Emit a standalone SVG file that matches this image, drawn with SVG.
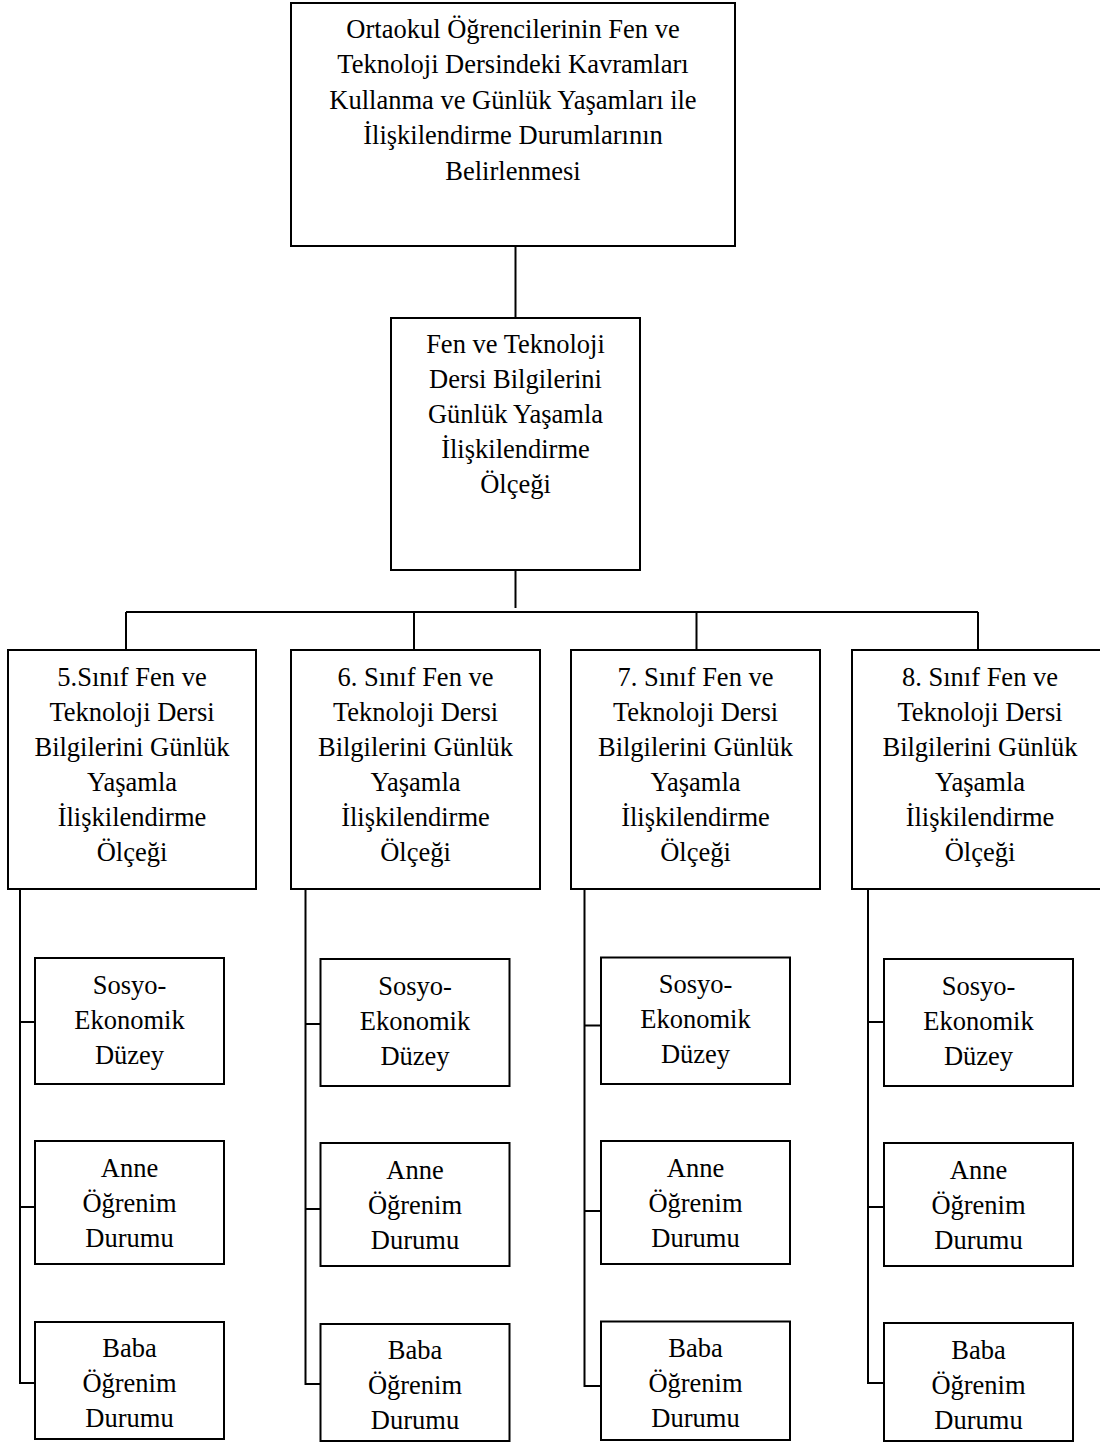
<svg xmlns="http://www.w3.org/2000/svg" width="1100" height="1443" viewBox="0 0 1100 1443">
<style>
.box{fill:#fff;stroke:#000;stroke-width:2}
.ln{fill:none;stroke:#000;stroke-width:2}
.t{font-size:26.5px;fill:#000;text-anchor:middle}
</style>
<rect width="1100" height="1443" fill="#fff"/>
<g id="connectors">
<path class="ln" d="M515.5,246V318"/>
<path class="ln" d="M515.5,570V608"/>
<path class="ln" d="M126,612H978"/>
<path class="ln" d="M126,612V650M414,612V650M696.5,612V650M978,612V652"/>
<path class="ln" d="M20,889V1383H35M20,1022H35M20,1207H35"/>
<path class="ln" d="M305.5,889V1384H320.5M305.5,1024H320.5M305.5,1209H320.5"/>
<path class="ln" d="M584.5,889V1386H601M584.5,1025.5H601M584.5,1211H601"/>
<path class="ln" d="M868,889V1383H884M868,1022H884M868,1207H884"/>
</g>
<g id="root">
<rect class="box" x="291" y="3" width="444" height="243"/>
<text class="t" style="font-family:'Liberation Serif',serif"><tspan x="513" y="37.5">Ortaokul Öğrencilerinin Fen ve</tspan><tspan x="513" y="73">Teknoloji Dersindeki Kavramları</tspan><tspan x="513" y="108.5">Kullanma ve Günlük Yaşamları ile</tspan><tspan x="513" y="144">İlişkilendirme Durumlarının</tspan><tspan x="513" y="179.5">Belirlenmesi</tspan></text>
</g>
<g id="scale">
<rect class="box" x="391" y="318" width="249" height="252"/>
<text class="t" style="font-family:'Liberation Serif',serif"><tspan x="515.5" y="353">Fen ve Teknoloji</tspan><tspan x="515.5" y="388">Dersi Bilgilerini</tspan><tspan x="515.5" y="423">Günlük Yaşamla</tspan><tspan x="515.5" y="458">İlişkilendirme</tspan><tspan x="515.5" y="493">Ölçeği</tspan></text>
</g>
<g id="grade5">
<rect class="box" x="8" y="650" width="248" height="239"/>
<text class="t" style="font-family:'Liberation Serif',serif"><tspan x="132" y="686">5.Sınıf Fen ve</tspan><tspan x="132" y="721">Teknoloji Dersi</tspan><tspan x="132" y="756">Bilgilerini Günlük</tspan><tspan x="132" y="791">Yaşamla</tspan><tspan x="132" y="826">İlişkilendirme</tspan><tspan x="132" y="861">Ölçeği</tspan></text>
</g>
<g id="grade6">
<rect class="box" x="291" y="650" width="249" height="239"/>
<text class="t" style="font-family:'Liberation Serif',serif"><tspan x="415.5" y="686">6. Sınıf Fen ve</tspan><tspan x="415.5" y="721">Teknoloji Dersi</tspan><tspan x="415.5" y="756">Bilgilerini Günlük</tspan><tspan x="415.5" y="791">Yaşamla</tspan><tspan x="415.5" y="826">İlişkilendirme</tspan><tspan x="415.5" y="861">Ölçeği</tspan></text>
</g>
<g id="grade7">
<rect class="box" x="571" y="650" width="249" height="239"/>
<text class="t" style="font-family:'Liberation Serif',serif"><tspan x="695.5" y="686">7. Sınıf Fen ve</tspan><tspan x="695.5" y="721">Teknoloji Dersi</tspan><tspan x="695.5" y="756">Bilgilerini Günlük</tspan><tspan x="695.5" y="791">Yaşamla</tspan><tspan x="695.5" y="826">İlişkilendirme</tspan><tspan x="695.5" y="861">Ölçeği</tspan></text>
</g>
<g id="grade8">
<rect class="box" x="852" y="650" width="256" height="239"/>
<text class="t" style="font-family:'Liberation Serif',serif"><tspan x="980" y="686">8. Sınıf Fen ve</tspan><tspan x="980" y="721">Teknoloji Dersi</tspan><tspan x="980" y="756">Bilgilerini Günlük</tspan><tspan x="980" y="791">Yaşamla</tspan><tspan x="980" y="826">İlişkilendirme</tspan><tspan x="980" y="861">Ölçeği</tspan></text>
</g>
<g id="g5-ses">
<rect class="box" x="35" y="958" width="189" height="126"/>
<text class="t" style="font-family:'Liberation Serif',serif"><tspan x="129.5" y="993.5">Sosyo-</tspan><tspan x="129.5" y="1028.5">Ekonomik</tspan><tspan x="129.5" y="1063.5">Düzey</tspan></text>
</g>
<g id="g5-anne">
<rect class="box" x="35" y="1141" width="189" height="123"/>
<text class="t" style="font-family:'Liberation Serif',serif"><tspan x="129.5" y="1176.5">Anne</tspan><tspan x="129.5" y="1211.5">Öğrenim</tspan><tspan x="129.5" y="1246.5">Durumu</tspan></text>
</g>
<g id="g5-baba">
<rect class="box" x="35" y="1322" width="189" height="117"/>
<text class="t" style="font-family:'Liberation Serif',serif"><tspan x="129.5" y="1357">Baba</tspan><tspan x="129.5" y="1392">Öğrenim</tspan><tspan x="129.5" y="1427">Durumu</tspan></text>
</g>
<g id="g6-ses">
<rect class="box" x="320.5" y="959" width="189" height="127"/>
<text class="t" style="font-family:'Liberation Serif',serif"><tspan x="415" y="994.5">Sosyo-</tspan><tspan x="415" y="1029.5">Ekonomik</tspan><tspan x="415" y="1064.5">Düzey</tspan></text>
</g>
<g id="g6-anne">
<rect class="box" x="320.5" y="1143" width="189" height="123"/>
<text class="t" style="font-family:'Liberation Serif',serif"><tspan x="415" y="1178.5">Anne</tspan><tspan x="415" y="1213.5">Öğrenim</tspan><tspan x="415" y="1248.5">Durumu</tspan></text>
</g>
<g id="g6-baba">
<rect class="box" x="320.5" y="1324" width="189" height="117"/>
<text class="t" style="font-family:'Liberation Serif',serif"><tspan x="415" y="1359">Baba</tspan><tspan x="415" y="1394">Öğrenim</tspan><tspan x="415" y="1429">Durumu</tspan></text>
</g>
<g id="g7-ses">
<rect class="box" x="601" y="957.5" width="189" height="126.5"/>
<text class="t" style="font-family:'Liberation Serif',serif"><tspan x="695.5" y="993">Sosyo-</tspan><tspan x="695.5" y="1028">Ekonomik</tspan><tspan x="695.5" y="1063">Düzey</tspan></text>
</g>
<g id="g7-anne">
<rect class="box" x="601" y="1141" width="189" height="123"/>
<text class="t" style="font-family:'Liberation Serif',serif"><tspan x="695.5" y="1176.5">Anne</tspan><tspan x="695.5" y="1211.5">Öğrenim</tspan><tspan x="695.5" y="1246.5">Durumu</tspan></text>
</g>
<g id="g7-baba">
<rect class="box" x="601" y="1321.5" width="189" height="118.5"/>
<text class="t" style="font-family:'Liberation Serif',serif"><tspan x="695.5" y="1357">Baba</tspan><tspan x="695.5" y="1392">Öğrenim</tspan><tspan x="695.5" y="1427">Durumu</tspan></text>
</g>
<g id="g8-ses">
<rect class="box" x="884" y="959" width="189" height="127"/>
<text class="t" style="font-family:'Liberation Serif',serif"><tspan x="978.5" y="994.5">Sosyo-</tspan><tspan x="978.5" y="1029.5">Ekonomik</tspan><tspan x="978.5" y="1064.5">Düzey</tspan></text>
</g>
<g id="g8-anne">
<rect class="box" x="884" y="1143" width="189" height="123"/>
<text class="t" style="font-family:'Liberation Serif',serif"><tspan x="978.5" y="1178.5">Anne</tspan><tspan x="978.5" y="1213.5">Öğrenim</tspan><tspan x="978.5" y="1248.5">Durumu</tspan></text>
</g>
<g id="g8-baba">
<rect class="box" x="884" y="1323" width="189" height="118"/>
<text class="t" style="font-family:'Liberation Serif',serif"><tspan x="978.5" y="1358.5">Baba</tspan><tspan x="978.5" y="1393.5">Öğrenim</tspan><tspan x="978.5" y="1428.5">Durumu</tspan></text>
</g>
</svg>
